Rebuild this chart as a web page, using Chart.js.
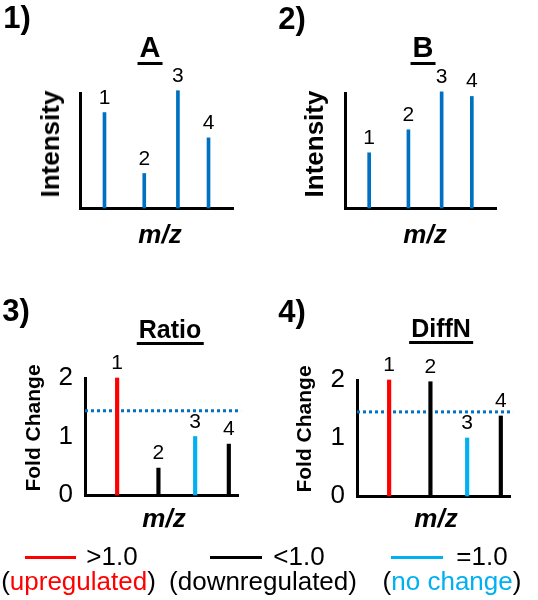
<!DOCTYPE html>
<html>
<head>
<meta charset="utf-8">
<script src="https://cdn.jsdelivr.net/npm/chart.js@4.4.1/dist/chart.umd.min.js"></script>
<style>
html,body{margin:0;padding:0;background:#fff;}
#fig{position:relative;width:538px;height:600px;overflow:hidden;background:#fff;font-family:'Liberation Sans',Arial,Helvetica,sans-serif;color:#000;}
canvas{position:absolute;}
.t{position:absolute;white-space:nowrap;line-height:1;transform:translate(-50%,-50%);}
.rot{position:absolute;white-space:nowrap;line-height:1;transform:translate(-50%,-50%) rotate(-90deg);font-weight:bold;}
.ttl{position:absolute;white-space:nowrap;font-weight:bold;transform:translateX(-50%);padding:0 2px;border-bottom:3px solid #000;}
.num{font-weight:bold;}
.mz{font-weight:bold;font-style:italic;}
.lg{position:absolute;height:3px;}
</style>
</head>
<body>
<div id="fig">
  <canvas id="cA" width="269" height="260" style="left:0;top:0"></canvas>
  <canvas id="cB" width="269" height="260" style="left:269px;top:0"></canvas>
  <canvas id="cR" width="269" height="270" style="left:0;top:260px"></canvas>
  <canvas id="cD" width="269" height="270" style="left:269px;top:260px"></canvas>
</div>
<script>
// ---------------- data ----------------
const peakLabels = ['1', '2', '3', '4'];
const mzTop = [16, 42, 64, 84];          // m/z positions (arbitrary units) in panels 1-2
const mzBottom = [21, 48, 72, 94];       // m/z positions in panels 3-4
const intensityA = [83, 30, 102, 61];
const intensityB = [48, 68, 101, 97];
const foldRatio = [2.0, 0.46, 1.0, 0.87];
const foldDiffN = [2.0, 1.97, 1.0, 1.38];
const classRatio = ['up', 'down', 'same', 'down'];
const classDiffN = ['up', 'down', 'same', 'down'];
const foldTicks = [0, 1, 2];
const thresholdRatio = 1.44;
const thresholdDiffN = 1.45;

// ---------------- styles ----------------
const FONT = "'Liberation Sans', Arial, Helvetica, sans-serif";
const BLUE = '#0070c0';
const classColor = { up: '#ff0000', down: '#000000', same: '#00b0f0' };

const peakLabelPlugin = {
  id: 'peakLabels',
  afterDatasetsDraw(chart, args, opts) {
    const meta = chart.getDatasetMeta(0);
    const ctx = chart.ctx;
    ctx.save();
    ctx.font = '21px ' + FONT;
    ctx.fillStyle = '#000';
    ctx.textAlign = 'center';
    ctx.textBaseline = 'alphabetic';
    meta.data.forEach((el, i) => {
      ctx.fillText(opts.labels[i], el.x, el.y - 9);
    });
    ctx.restore();
  }
};

function zeroPad(s) { s.paddingLeft = 0; s.paddingRight = 0; s.paddingTop = 0; s.paddingBottom = 0; }

function stemChart(id, mz, values, colors, thickness, padding, yCfg, threshold) {
  const datasets = [{
    type: 'bar',
    data: mz.map((x, i) => ({ x: x, y: values[i] })),
    backgroundColor: colors,
    borderWidth: 0,
    barThickness: thickness,
    clip: false,
    order: 0
  }];
  if (threshold !== undefined) {
    datasets.push({
      type: 'line',
      data: [{ x: 0, y: threshold }, { x: 102, y: threshold }],
      borderColor: BLUE,
      borderWidth: 3,
      borderDash: [3, 3],
      pointRadius: 0,
      fill: false,
      clip: false,
      order: 1
    });
  }
  return new Chart(document.getElementById(id), {
    type: 'bar',
    data: { datasets: datasets },
    plugins: [peakLabelPlugin],
    options: {
      responsive: false,
      animation: false,
      devicePixelRatio: 1,
      layout: { padding: padding },
      plugins: {
        legend: { display: false },
        tooltip: { enabled: false },
        peakLabels: { labels: peakLabels }
      },
      scales: {
        x: {
          type: 'linear', min: 0, max: 100, offset: false,
          ticks: { display: false },
          grid: { display: false, drawTicks: false },
          border: { display: true, width: 3, color: '#000' },
          afterFit: s => { s.height = 0; zeroPad(s); }
        },
        y: yCfg
      }
    }
  });
}

function intensityAxis() {
  return {
    type: 'linear', min: 0, max: 100,
    ticks: { display: false },
    grid: { display: false, drawTicks: false },
    border: { display: true, width: 3, color: '#000' },
    afterFit: s => { s.width = 0; zeroPad(s); }
  };
}

function foldAxis(w) {
  return {
    type: 'linear', min: 0, max: 2,
    ticks: { display: true, color: '#000', padding: 12, font: { size: 26, family: FONT } },
    afterBuildTicks: s => { s.ticks = foldTicks.map(v => ({ value: v })); },
    grid: { display: false, drawTicks: false },
    border: { display: true, width: 3, color: '#000' },
    afterFit: s => { s.width = w; zeroPad(s); }
  };
}

stemChart('cA', mzTop, intensityA, intensityA.map(() => BLUE), 3,
  { left: 80, right: 36, top: 93, bottom: 52 }, intensityAxis());
stemChart('cB', mzTop, intensityB, intensityB.map(() => BLUE), 3,
  { left: 76, right: 42, top: 93, bottom: 52 }, intensityAxis());
stemChart('cR', mzBottom, foldRatio, classRatio.map(c => classColor[c]), 3.5,
  { left: 0, right: 31, top: 118, bottom: 35 }, foldAxis(85), thresholdRatio);
stemChart('cD', mzBottom, foldDiffN, classDiffN.map(c => classColor[c]), 3.5,
  { left: 0, right: 28, top: 120, bottom: 34 }, foldAxis(88), thresholdDiffN);

// ---------------- text ----------------
const fig = document.getElementById('fig');
function txt(html, cls, cx, cy, size, extra) {
  const d = document.createElement('div');
  d.className = cls;
  d.innerHTML = html;
  d.style.left = cx + 'px';
  d.style.top = cy + 'px';
  d.style.fontSize = size + 'px';
  if (extra) Object.assign(d.style, extra);
  fig.appendChild(d);
}
function title(text, cx, cy, size) {
  const d = document.createElement('div');
  d.className = 'ttl';
  d.textContent = text;
  d.style.left = cx + 'px';
  d.style.top = (cy - size / 2) + 'px';
  d.style.fontSize = size + 'px';
  d.style.lineHeight = size + 'px';
  fig.appendChild(d);
}
function lgLine(x1, x2, y, color) {
  const d = document.createElement('div');
  d.className = 'lg';
  d.style.left = x1 + 'px';
  d.style.width = (x2 - x1) + 'px';
  d.style.top = (y - 1.5) + 'px';
  d.style.background = color;
  fig.appendChild(d);
}

// panel numbers
txt('1)', 't num', 17, 17, 31);
txt('2)', 't num', 292, 18, 31);
txt('3)', 't num', 16, 310, 31);
txt('4)', 't num', 292, 311, 31);

// titles
title('A', 150, 47, 29);
title('B', 423, 47, 29);
title('Ratio', 170, 329, 25);
title('DiffN', 441, 328, 25);

// axis titles
txt('Intensity', 'rot', 50, 144, 26);
txt('Intensity', 'rot', 314, 144, 26);
txt('Fold Change', 'rot', 32, 428, 21);
txt('Fold Change', 'rot', 303, 429, 21);
txt('m/z', 't mz', 160, 234, 26);
txt('m/z', 't mz', 425, 234, 26);
txt('m/z', 't mz', 164, 518, 26);
txt('m/z', 't mz', 436, 518, 26);

// legend
lgLine(25, 76, 557, classColor.up);
lgLine(210, 262, 557, classColor.down);
lgLine(391, 443, 557, classColor.same);
txt('&gt;1.0', 't', 112, 556, 26);
txt('&lt;1.0', 't', 299, 556, 26);
txt('=1.0', 't', 482, 556, 26);
txt('(<span style="color:' + classColor.up + '">upregulated</span>)', 't', 78.5, 580.5, 26);
txt('(downregulated)', 't', 263, 580.5, 26);
txt('(<span style="color:' + classColor.same + '">no change</span>)', 't', 452, 580.5, 26);
</script>
</body>
</html>
